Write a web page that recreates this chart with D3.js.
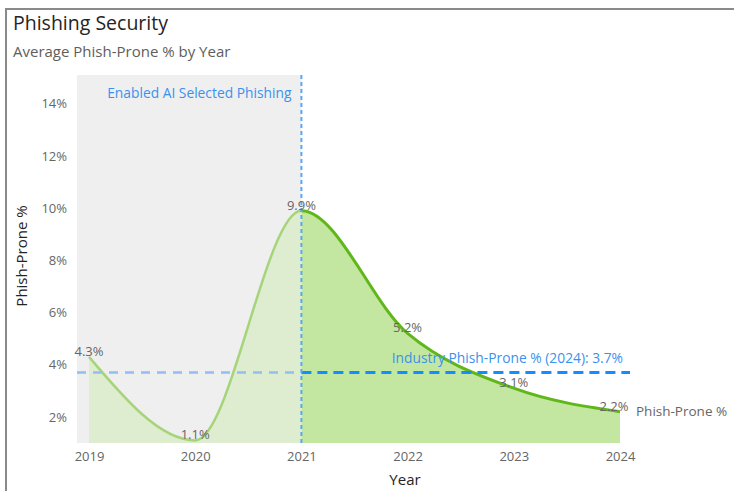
<!DOCTYPE html>
<html>
<head>
<meta charset="utf-8">
<script src="https://cdn.jsdelivr.net/npm/d3@7"></script>
<style>
  body { margin: 0; background: #fff; }
  text { font-family: "Open Sans", "Noto Sans", sans-serif; }
</style>
</head>
<body>
<div id="container"></div>
<script>
var w = 734;
var h = 491;

// data
var years = [2019, 2020, 2021, 2022, 2023, 2024];
var phishProne = [4.3, 1.1, 9.9, 5.2, 3.1, 2.2];
var yTicks = [2, 4, 6, 8, 10, 12, 14];
var industryValue = 3.7;
var aiYear = 2021;

var data = years.map(function(d, i) { return {year: d, value: phishProne[i]}; });

var svg = d3.select("div#container").append("svg")
  .attr("width", w)
  .attr("height", h);

var x = d3.scaleLinear().domain([2019, 2024]).range([89, 620]);
var y = d3.scaleLinear().domain([1, 15.1]).range([443, 75]);
var plotLeft = 77;

// frame
svg.append("path")
  .attr("d", "M6,491 L6,9 L734,9")
  .style("fill", "none")
  .style("stroke", "#8a8a8a")
  .style("stroke-width", 2);

svg.append("text")
  .attr("x", 13).attr("y", 30)
  .attr("fill", "#252423")
  .style("font-size", "19.5px")
  .text("Phishing Security");

svg.append("text")
  .attr("x", 13).attr("y", 57)
  .attr("fill", "#605e5c")
  .style("font-size", "15px")
  .text("Average Phish-Prone % by Year");

// shaded period before AI
svg.append("rect")
  .attr("x", plotLeft)
  .attr("y", y.range()[1])
  .attr("width", x(aiYear) - plotLeft)
  .attr("height", y.range()[0] - y.range()[1])
  .attr("fill", "#efefef");

// y axis
var gy = svg.append("g").attr("transform", "translate(" + plotLeft + ",0)");
gy.call(d3.axisLeft(y).tickValues(yTicks).tickSize(0).tickPadding(10)
  .tickFormat(function(d) { return d + "%"; }));
gy.select(".domain").remove();
gy.selectAll("text")
  .attr("fill", "#666")
  .style("font-size", "13px")
  .style("font-family", "'Open Sans', sans-serif");

svg.append("text")
  .attr("transform", "translate(27,256) rotate(-90)")
  .attr("text-anchor", "middle")
  .attr("fill", "#252423")
  .style("font-size", "15px")
  .text("Phish-Prone %");

// x axis
var gx = svg.append("g").attr("transform", "translate(0," + y.range()[0] + ")");
gx.call(d3.axisBottom(x).tickValues(years).tickSize(0).tickPadding(9)
  .tickFormat(d3.format("d")));
gx.select(".domain").remove();
gx.selectAll("text")
  .attr("fill", "#666")
  .style("font-size", "13px")
  .style("font-family", "'Open Sans', sans-serif");

svg.append("text")
  .attr("x", 405).attr("y", 485)
  .attr("text-anchor", "middle")
  .attr("fill", "#252423")
  .style("font-size", "15px")
  .text("Year");

// clips for faded / highlighted parts
var defs = svg.append("defs");
defs.append("clipPath").attr("id", "before")
  .append("rect")
  .attr("x", 0).attr("y", 0)
  .attr("width", x(aiYear)).attr("height", h);
defs.append("clipPath").attr("id", "after")
  .append("rect")
  .attr("x", x(aiYear)).attr("y", 0)
  .attr("width", w - x(aiYear)).attr("height", h);

var area = d3.area()
  .x(function(d) { return x(d.year); })
  .y0(y.range()[0])
  .y1(function(d) { return y(d.value); })
  .curve(d3.curveMonotoneX);

var line = d3.line()
  .x(function(d) { return x(d.year); })
  .y(function(d) { return y(d.value); })
  .curve(d3.curveMonotoneX);

svg.append("path")
  .datum(data)
  .attr("clip-path", "url(#before)")
  .attr("d", area)
  .attr("fill", "#c9e8a8")
  .attr("opacity", 0.45);

svg.append("path")
  .datum(data)
  .attr("clip-path", "url(#after)")
  .attr("d", area)
  .attr("fill", "#c3e6a0");

svg.append("path")
  .datum(data)
  .attr("clip-path", "url(#before)")
  .attr("d", line)
  .attr("fill", "none")
  .attr("stroke", "#a6d47a")
  .attr("stroke-width", 2.5);

svg.append("path")
  .datum(data)
  .attr("clip-path", "url(#after)")
  .attr("d", line)
  .attr("fill", "none")
  .attr("stroke", "#5fb71a")
  .attr("stroke-width", 3);

// industry reference line
svg.append("line")
  .attr("x1", plotLeft).attr("x2", x(aiYear))
  .attr("y1", y(industryValue)).attr("y2", y(industryValue))
  .attr("stroke", "#8ec0f2")
  .attr("stroke-width", 2.5)
  .attr("stroke-dasharray", "9,7");

svg.append("line")
  .attr("x1", x(aiYear)).attr("x2", 630)
  .attr("y1", y(industryValue)).attr("y2", y(industryValue))
  .attr("stroke", "#118dff")
  .attr("stroke-width", 3)
  .attr("stroke-dasharray", "10,6");

svg.append("text")
  .attr("x", 623).attr("y", y(industryValue) - 10)
  .attr("text-anchor", "end")
  .attr("fill", "#3a92ee")
  .style("font-size", "13.8px")
  .text("Industry Phish-Prone % (2024): " + industryValue + "%");

// AI enabled marker
svg.append("line")
  .attr("x1", x(aiYear)).attr("x2", x(aiYear))
  .attr("y1", y.range()[1]).attr("y2", y.range()[0])
  .attr("stroke", "#5aa8f5")
  .attr("stroke-width", 2)
  .attr("stroke-dasharray", "4,3");

svg.append("text")
  .attr("x", x(aiYear) - 10).attr("y", 98)
  .attr("text-anchor", "end")
  .attr("fill", "#3a92ee")
  .style("font-size", "13.8px")
  .text("Enabled AI Selected Phishing");

// data labels
svg.selectAll("text.lbl")
  .data(data)
  .enter().append("text")
  .attr("class", "lbl")
  .attr("x", function(d, i) { return x(d.year) - (i == data.length - 1 ? 6 : 0); })
  .attr("y", function(d) { return y(d.value) - 1; })
  .attr("text-anchor", "middle")
  .attr("fill", "#666")
  .style("font-size", "13px")
  .text(function(d) { return d.value + "%"; });

var last = data[data.length - 1];
svg.append("text")
  .attr("x", x(last.year) + 16).attr("y", y(last.value) + 4)
  .attr("fill", "#666")
  .style("font-size", "13.5px")
  .text("Phish-Prone %");
</script>
</body>
</html>
